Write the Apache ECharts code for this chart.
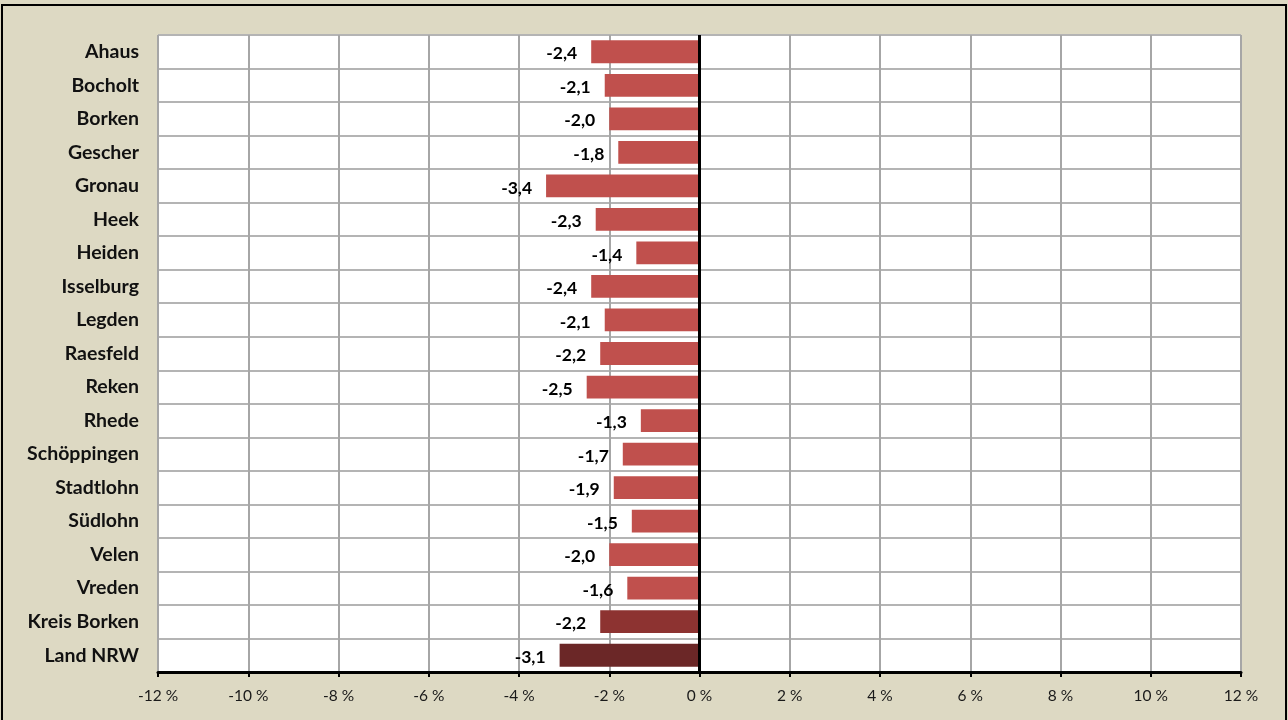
<!DOCTYPE html>
<html lang="de">
<head>
    <meta charset="UTF-8">
    <title>Veränderung Kreis Borken</title>
    <script src="https://cdn.jsdelivr.net/npm/echarts@6/dist/echarts.min.js"></script>
    <style>
        html, body { margin: 0; padding: 0; background: #DDD9C3; }
        #main { width: 1288px; height: 720px; }
    </style>
</head>
<body>
<div id="main"></div>
<script>
    // Daten
    var orte = ['Ahaus', 'Bocholt', 'Borken', 'Gescher', 'Gronau', 'Heek', 'Heiden', 'Isselburg',
        'Legden', 'Raesfeld', 'Reken', 'Rhede', 'Schöppingen', 'Stadtlohn', 'Südlohn', 'Velen',
        'Vreden', 'Kreis Borken', 'Land NRW'];
    var werte = [-2.4, -2.1, -2.0, -1.8, -3.4, -2.3, -1.4, -2.4, -2.1, -2.2, -2.5, -1.3, -1.7,
        -1.9, -1.5, -2.0, -1.6, -2.2, -3.1];
    var achseMin = -12, achseMax = 12, schritt = 2;

    var farbeOrt = '#C0504D';
    var farbeKreis = '#8D3331';
    var farbeLand = '#6B2727';

    var balken = [];
    for (var i = 0; i < werte.length; i++) {
        var f = farbeOrt;
        if (orte[i] === 'Kreis Borken') f = farbeKreis;
        if (orte[i] === 'Land NRW') f = farbeLand;
        balken.push({ value: werte[i], itemStyle: { color: f } });
    }

    var chart = echarts.init(document.getElementById('main'));
    chart.setOption({
        backgroundColor: '#DDD9C3',
        animation: false,
        textStyle: { fontFamily: 'Lato, "Open Sans", sans-serif' },
        graphic: [{
            type: 'rect',
            shape: { x: 2, y: 5, width: 1284, height: 730 },
            style: { fill: 'none', stroke: '#000', lineWidth: 2 },
            silent: true
        }],
        grid: {
            left: 158, right: 47, top: 35, bottom: 48,
            show: true, backgroundColor: '#fff', borderWidth: 0
        },
        xAxis: {
            type: 'value',
            min: achseMin, max: achseMax, interval: schritt,
            axisLine: { show: true, onZero: false, lineStyle: { color: '#000', width: 3 } },
            axisTick: { show: true, length: 5, lineStyle: { color: '#000', width: 2 } },
            axisLabel: {
                color: '#1a1a1a', fontSize: 15.5, margin: 16,
                formatter: function (v) { return v + ' %'; }
            },
            splitLine: { show: true, lineStyle: { color: '#A6A6A6', width: 2 } }
        },
        yAxis: {
            type: 'category',
            inverse: true,
            data: orte,
            axisLine: { show: false, onZero: false },
            axisTick: { show: false },
            axisLabel: { color: '#111', fontSize: 19.5, fontWeight: 'bold', margin: 19 },
            splitLine: { show: true, lineStyle: { color: '#B4B4B4', width: 2 } }
        },
        series: [{
            type: 'bar',
            data: balken,
            barWidth: '68%',
            label: {
                show: true,
                position: 'left',
                distance: 14,
                color: '#000',
                fontSize: 17.5,
                fontWeight: 'bold',
                offset: [0, 2],
                formatter: function (p) { return p.value.toFixed(1).replace('.', ','); }
            },
            markLine: {
                silent: true,
                symbol: 'none',
                label: { show: false },
                lineStyle: { color: '#000', width: 3, type: 'solid' },
                data: [{ xAxis: 0 }]
            }
        }]
    });
</script>
</body>
</html>
